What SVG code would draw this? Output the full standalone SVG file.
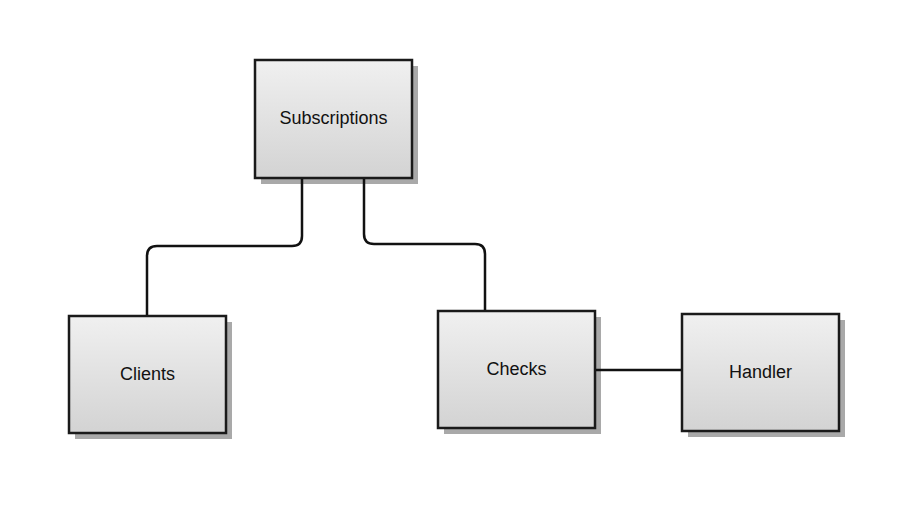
<svg xmlns="http://www.w3.org/2000/svg" width="900" height="517" viewBox="0 0 900 517">
<defs>
<linearGradient id="g" x1="0" y1="0" x2="0" y2="1">
<stop offset="0" stop-color="#f0f0f0"/>
<stop offset="1" stop-color="#d3d3d3"/>
</linearGradient>
<style>
.shadow{fill:#a9a9a9}
.box{fill:url(#g);stroke:#1a1a1a;stroke-width:2.5}
.lbl{font-family:"Liberation Sans",Arial,sans-serif;font-size:18px;fill:#111;text-anchor:middle;dominant-baseline:central}
.conn{fill:none;stroke:#111;stroke-width:2.5}
</style>
</defs>
<rect width="900" height="517" fill="#fff"/>
<g id="subscriptions">
<rect class="shadow" x="261" y="66" width="157" height="118"/>
<rect class="box" x="255" y="60" width="157" height="118"/>
<text class="lbl" x="333.5" y="118">Subscriptions</text>
</g>
<g id="clients">
<rect class="shadow" x="75" y="322" width="157" height="117"/>
<rect class="box" x="69" y="316" width="157" height="117"/>
<text class="lbl" x="147.5" y="374">Clients</text>
</g>
<g id="checks">
<rect class="shadow" x="444" y="317" width="157" height="117"/>
<rect class="box" x="438" y="311" width="157" height="117"/>
<text class="lbl" x="516.5" y="369">Checks</text>
</g>
<g id="handler">
<rect class="shadow" x="688" y="320" width="157" height="117"/>
<rect class="box" x="682" y="314" width="157" height="117"/>
<text class="lbl" x="760.5" y="372">Handler</text>
</g>
<g id="connectors">
<path class="conn" d="M302,179 V236 Q302,246 292,246 H157 Q147,246 147,256 V315"/>
<path class="conn" d="M364,179 V234 Q364,244 374,244 H475 Q485,244 485,254 V310"/>
<path class="conn" d="M596,370 H681"/>
</g>
</svg>
